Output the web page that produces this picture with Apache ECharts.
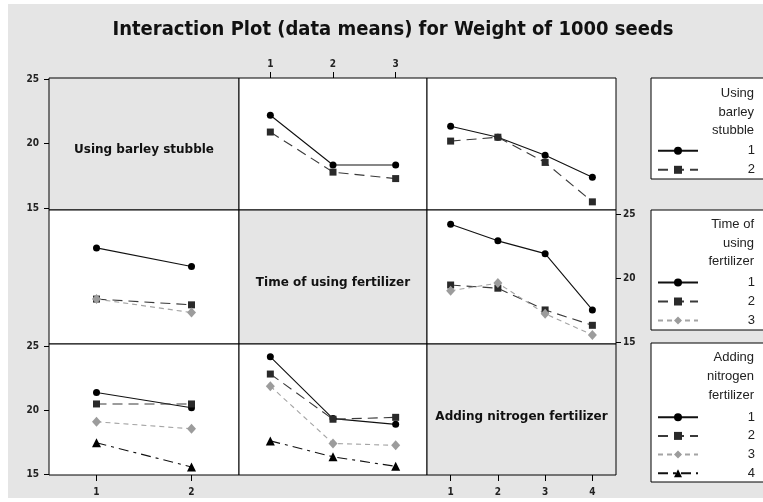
<!DOCTYPE html>
<html><head><meta charset="utf-8">
<script src="https://cdn.jsdelivr.net/npm/echarts@6/dist/echarts.min.js"></script>
<style>html,body{margin:0;padding:0;background:#fff}#c{width:763px;height:502px}</style>
</head><body><div id="c"></div>
<script>
// ---------- texts ----------
const chartTitle = 'Interaction Plot (data means) for Weight of 1000 seeds';
const factorNames = ['Using barley stubble', 'Time of using fertilizer', 'Adding nitrogen fertilizer'];
const legendTitles = ['Using\nbarley\nstubble', 'Time of\nusing\nfertilizer', 'Adding\nnitrogen\nfertilizer'];
// ---------- categories / ticks ----------
const barleyLevels = ['1', '2'];
const timeLevels = ['1', '2', '3'];
const nitrogenLevels = ['1', '2', '3', '4'];
const yTickValues = [15, 20, 25];
// ---------- data (means) ----------
// row 1, col 2 : x = time, lines = barley
const timeX_barley1 = [22.2, 18.35, 18.35];
const timeX_barley2 = [20.9, 17.8, 17.3];
// row 1, col 3 : x = nitrogen, lines = barley
const nitroX_barley1 = [21.35, 20.5, 19.1, 17.4];
const nitroX_barley2 = [20.2, 20.5, 18.55, 15.5];
// row 2, col 1 : x = barley, lines = time
const barleyX_time1 = [22.35, 20.9];
const barleyX_time2 = [18.35, 17.9];
const barleyX_time3 = [18.35, 17.3];
// row 2, col 3 : x = nitrogen, lines = time
const nitroX_time1 = [24.2, 22.9, 21.9, 17.5];
const nitroX_time2 = [19.45, 19.2, 17.5, 16.3];
const nitroX_time3 = [19.0, 19.6, 17.2, 15.55];
// row 3, col 1 : x = barley, lines = nitrogen
const barleyX_nitro1 = [21.4, 20.2];
const barleyX_nitro2 = [20.5, 20.5];
const barleyX_nitro3 = [19.1, 18.55];
const barleyX_nitro4 = [17.45, 15.55];
// row 3, col 2 : x = time, lines = nitrogen
const timeX_nitro1 = [24.2, 19.35, 18.9];
const timeX_nitro2 = [22.85, 19.3, 19.45];
const timeX_nitro3 = [21.9, 17.4, 17.25];
const timeX_nitro4 = [17.6, 16.35, 15.6];

// ---------- layout ----------
const colLeft = [49, 239, 427], colWidth = [190, 188, 189];
const rowTop = [78, 210, 344], rowHeight = [132, 134, 131];
const yRanges = [[14.87, 25.08], [14.84, 25.31], [14.92, 25.21]];
const xLevelsByCol = [barleyLevels, timeLevels, nitrogenLevels];
const FONT = 'DejaVu Sans';

const lvlStyle = [
  {symbol: 'circle', size: 7, color: '#000', line: '#111', type: 'solid'},
  {symbol: 'rect', size: 7, color: '#2a2a2a', line: '#3a3a3a', type: [10, 6]},
  {symbol: 'diamond', size: [9, 10], color: '#9c9c9c', line: '#a4a4a4', type: [5, 4]},
  {symbol: 'triangle', size: 9, color: '#000', line: '#111', type: [10, 5, 3, 5]}
];
const prefix = ['B', 'T', 'N'];

const panels = [
  {r: 0, c: 1, f: 0, data: [timeX_barley1, timeX_barley2]},
  {r: 0, c: 2, f: 0, data: [nitroX_barley1, nitroX_barley2]},
  {r: 1, c: 0, f: 1, data: [barleyX_time1, barleyX_time2, barleyX_time3]},
  {r: 1, c: 2, f: 1, data: [nitroX_time1, nitroX_time2, nitroX_time3]},
  {r: 2, c: 0, f: 2, data: [barleyX_nitro1, barleyX_nitro2, barleyX_nitro3, barleyX_nitro4]},
  {r: 2, c: 1, f: 2, data: [timeX_nitro1, timeX_nitro2, timeX_nitro3, timeX_nitro4]}
];

const grids = [], xAxes = [], yAxes = [], series = [];
const labelFont = {fontFamily: 'DejaVu Sans Condensed', fontWeight: 'bold', fontSize: 10, color: '#222'};
for (let r = 0; r < 3; r++) {
  for (let c = 0; c < 3; c++) {
    const gi = r * 3 + c;
    grids.push({
      left: colLeft[c], top: rowTop[r], width: colWidth[c], height: rowHeight[r],
      show: true, backgroundColor: r === c ? '#e5e5e5' : '#ffffff',
      borderColor: '#000', borderWidth: 1, containLabel: false, outerBoundsMode: 'none'
    });
    const showTopX = (r === 0 && c === 1);
    const showBottomX = (r === 2 && (c === 0 || c === 2));
    const showX = showTopX || showBottomX;
    xAxes.push({
      type: 'category', gridIndex: gi, data: xLevelsByCol[c], boundaryGap: true,
      position: showTopX ? 'top' : 'bottom',
      axisLine: {show: false},
      axisTick: {show: showX, alignWithLabel: true, length: 6, lineStyle: {color: '#000'}},
      axisLabel: Object.assign({show: showX, margin: showTopX ? 9 : 12}, labelFont),
      splitLine: {show: false}
    });
    const showLeftY = (c === 0 && (r === 0 || r === 2));
    const showRightY = (r === 1 && c === 2);
    const showY = showLeftY || showRightY;
    yAxes.push({
      type: 'value', gridIndex: gi, min: yRanges[r][0], max: yRanges[r][1],
      position: showRightY ? 'right' : 'left',
      axisLine: {show: false},
      axisTick: {show: showY, length: 5, customValues: yTickValues, lineStyle: {color: '#000'}},
      axisLabel: Object.assign({show: showY, margin: showRightY ? 7 : 10, customValues: yTickValues}, labelFont),
      splitLine: {show: false}
    });
  }
}

panels.forEach(p => {
  const gi = p.r * 3 + p.c;
  p.data.forEach((vals, li) => {
    const s = lvlStyle[li];
    series.push({
      type: 'line', name: prefix[p.f] + (li + 1), xAxisIndex: gi, yAxisIndex: gi,
      data: vals, symbol: s.symbol, symbolSize: s.size,
      itemStyle: {color: s.color},
      lineStyle: {color: s.line, width: 1.1, type: s.type},
      emphasis: {disabled: true}, animation: false, z: 3
    });
  });
});

const legendTops = [144.3, 276, 410.7];
const legendNames = [
  barleyLevels.map(l => 'B' + l),
  timeLevels.map(l => 'T' + l),
  nitrogenLevels.map(l => 'N' + l)
];
const legends = legendNames.map((names, i) => ({
  data: names, orient: 'vertical', left: 657, top: legendTops[i], padding: 0,
  itemWidth: 40, itemHeight: 10, itemGap: i === 2 ? 5.7 : 6, selectedMode: false,
  formatter: n => '{a|' + n.slice(1) + '}',
  textStyle: {rich: {a: {width: 52, align: 'right', height: 10, lineHeight: 10,
    fontFamily: 'Liberation Sans', fontSize: 13, color: '#222'}}}
}));

const graphics = [
  {type: 'rect', shape: {x: 8, y: 4, width: 760, height: 494}, style: {fill: '#e5e5e5'}, z: -10, silent: true},
  {type: 'text', x: 393, y: 30, z: 10, style: {text: chartTitle, textAlign: 'center', textVerticalAlign: 'middle',
    font: 'bold 20px "DejaVu Sans Condensed", "DejaVu Sans"', fill: '#111'}},
  {type: 'rect', shape: {x: 651, y: 78, width: 130, height: 101}, style: {fill: '#fff', stroke: '#000', lineWidth: 1}, z: -5},
  {type: 'rect', shape: {x: 651, y: 210, width: 130, height: 120}, style: {fill: '#fff', stroke: '#000', lineWidth: 1}, z: -5},
  {type: 'rect', shape: {x: 651, y: 343, width: 130, height: 139}, style: {fill: '#fff', stroke: '#000', lineWidth: 1}, z: -5}
];
const legendTitleY = [112, 243, 376.5];
legendTitles.forEach((t, i) => graphics.push({type: 'text', x: 754, y: legendTitleY[i], z: 10,
  style: {text: t, textAlign: 'right', textVerticalAlign: 'middle', lineHeight: 18.7,
    font: '13px "Liberation Sans"', fill: '#222'}}));
const diagCenters = [[144, 150], [333, 283], [521.5, 416.5]];
factorNames.forEach((t, i) => graphics.push({type: 'text', x: diagCenters[i][0], y: diagCenters[i][1], z: 10,
  style: {text: t, textAlign: 'center', textVerticalAlign: 'middle', font: 'bold 12px "DejaVu Sans"', fill: '#111'}}));

const chart = echarts.init(document.getElementById('c'));
chart.setOption({
  backgroundColor: '#fff', animation: false,
  textStyle: {fontFamily: FONT},
  grid: grids, xAxis: xAxes, yAxis: yAxes, series: series,
  legend: legends, graphic: graphics
});
</script></body></html>
